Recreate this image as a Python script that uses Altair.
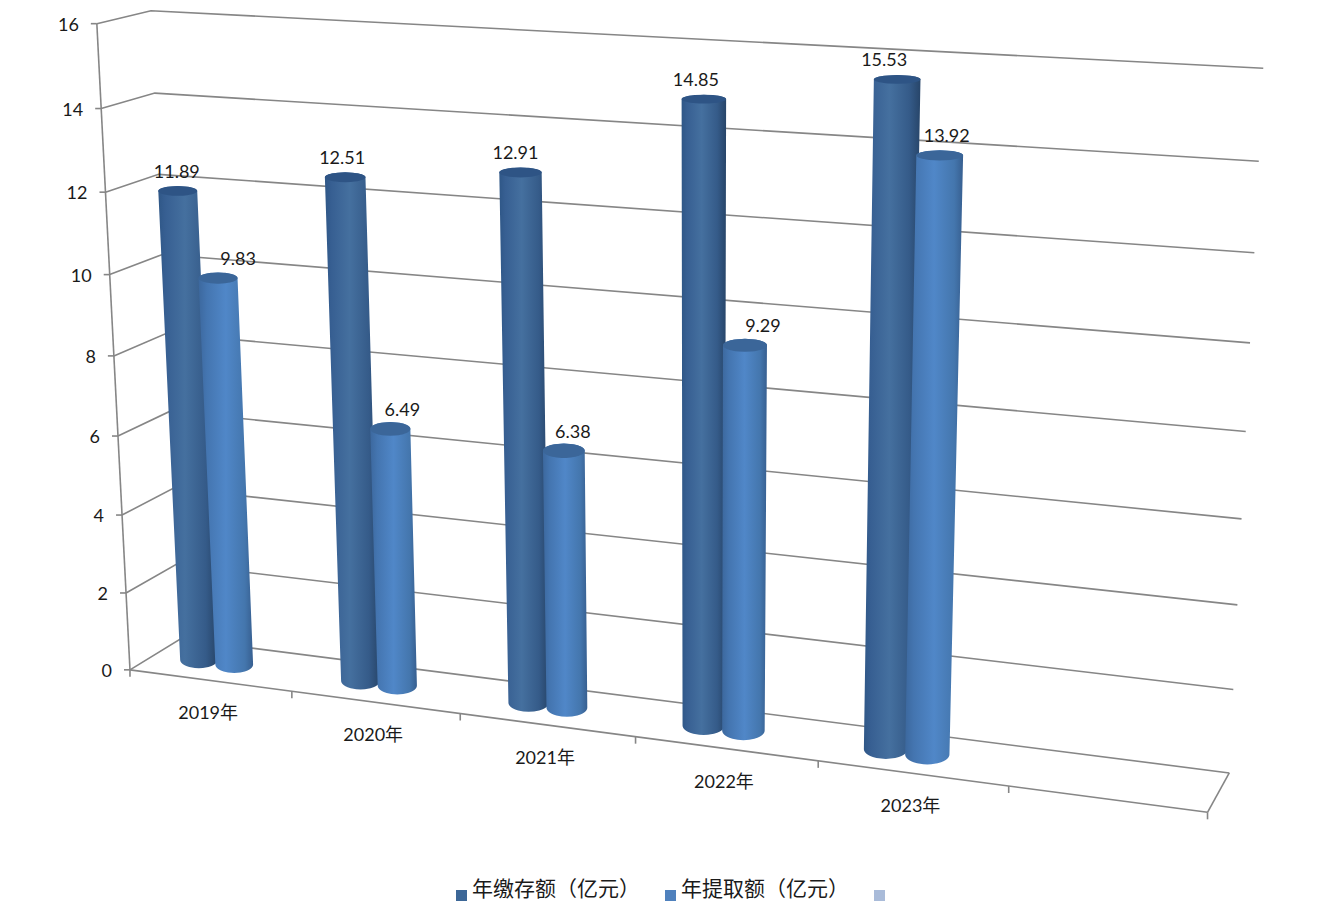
import altair as alt
import numpy as np
import pandas as pd

# ---------- chart values ----------
years = ["2019年", "2020年", "2021年", "2022年", "2023年"]
series_names = ["年缴存额（亿元）", "年提取额（亿元）", "系列3"]
deposits = [11.89, 12.51, 12.91, 14.85, 15.53]
withdrawals = [9.83, 6.49, 6.38, 9.29, 13.92]
value_ticks = [0, 2, 4, 6, 8, 10, 12, 14, 16]
slot_count = 6  # the category axis has one trailing empty slot
series_colors = ["#3c6797", "#4f81bd", "#a9bbd9"]

# ---------- camera calibration: (slot, depth, value) -> picture pixel ----------
calib = [
    (0, 0, 16, 97.3, 24), (0, 0, 14, 101.7, 108), (0, 0, 12, 106.7, 191.7),
    (0, 0, 2, 126, 592.7), (0, 0, 0, 129.3, 670),
    (0, 1, 16, 150, 10.7), (0, 1, 14, 154, 92.7), (0, 1, 12, 158.3, 175), (0, 1, 0, 182, 639),
    (6, 1, 16, 1264, 69), (6, 1, 14, 1258, 161), (6, 1, 12, 1254, 253), (6, 1, 10, 1250, 343),
    (6, 1, 8, 1246, 431), (6, 1, 6, 1242, 519), (6, 1, 4, 1238, 605), (6, 1, 2, 1233, 689),
    (6, 1, 0, 1229, 772.7), (6, 0, 0, 1208, 812),
    (1, 0, 0, 290.7, 691.7), (2, 0, 0, 460, 713.6), (3, 0, 0, 636, 736.7),
    (4, 0, 0, 818, 760.7), (5, 0, 0, 1008, 786.7),
]
A, b = [], []
for u, v, h, cx, cy in calib:
    A.append([u, v, h, 1, 0, 0, 0, 0, -cx * u, -cx * v, -cx * h]); b.append(cx)
    A.append([0, 0, 0, 0, u, v, h, 1, -cy * u, -cy * v, -cy * h]); b.append(cy)
P = np.append(np.linalg.lstsq(np.array(A, float), np.array(b, float), rcond=None)[0], 1).reshape(3, 4)


def project(u, v, h):
    q = P @ np.array([u, v, h, 1.0])
    return float(q[0] / q[2]), float(q[1] / q[2])


# ---------- geometry derived from the values ----------
slot_offsets = [0.275, 0.497]
radius_u, radius_v, depth_mid = 0.118, 0.27, 0.5
label_dx = [[-1, -3, -5, -8, -13], [20, 12, 9, 18, 7]]
label_dy = -18


def circle(u, h, n=72):
    """Level ellipse of a cylinder end: centre and semi-axes come from the camera."""
    cx, cy = project(u, depth_mid, h)
    semi_x = (project(u + radius_u, depth_mid, h)[0] - project(u - radius_u, depth_mid, h)[0]) / 2
    semi_y = (project(u, depth_mid - radius_v, h)[1] - project(u, depth_mid + radius_v, h)[1]) / 2
    t = np.linspace(0, 2 * np.pi, n, endpoint=False)
    return [(float(cx + semi_x * np.cos(a)), float(cy + semi_y * np.sin(a))) for a in t]


def hull(points):
    pts = sorted(set(points))
    def half(seq):
        out = []
        for p in seq:
            while len(out) > 1 and ((out[-1][0] - out[-2][0]) * (p[1] - out[-2][1])
                                    - (out[-1][1] - out[-2][1]) * (p[0] - out[-2][0])) <= 0:
                out.pop()
            out.append(p)
        return out[:-1]
    return half(pts) + half(pts[::-1])


def scan(poly, key, step):
    ys_all = [p[1] for p in poly]
    grid = np.arange(min(ys_all), max(ys_all), step).tolist() + [max(ys_all)]
    out = []
    for y in grid:
        xs_hit = []
        for (x0, y0), (x1, y1) in zip(poly, poly[1:] + poly[:1]):
            if min(y0, y1) <= y <= max(y0, y1):
                xs_hit.append(x0 if y0 == y1 else x0 + (y - y0) / (y1 - y0) * (x1 - x0))
        if xs_hit:
            out.append({"key": key, "y": y, "xl": min(xs_hit), "xr": max(xs_hit)})
    return out


bodies = [[], []]
caps = [[], []]
labels = []
legend_rows = []
for s, vals in enumerate([deposits, withdrawals]):
    for i, val in enumerate(vals):
        u = i + slot_offsets[s]
        key = f"k{s}{i}"
        base, top = circle(u, 0), circle(u, val)
        bodies[s] += scan(hull(base + top), key, 1.0)
        caps[s] += scan(hull(top), key, 0.4)
        cx, cy = project(u, depth_mid, val)
        labels.append({"x": cx + label_dx[s][i], "y": cy + label_dy, "t": f"{val:.2f}"})
        legend_rows.append({"x": cx, "y": cy, "series": series_names[s]})

grid_rows = []
for h in value_ticks:
    for n, (u, v) in enumerate([(0, 0), (0, 1), (slot_count, 1)]):
        x, y = project(u, v, h)
        grid_rows.append({"key": f"g{h}", "o": n, "x": x, "y": y})
frame = [
    ("axis", [(0, 0, 0), (0, 0, 16)]),
    ("front", [(0, 0, 0), (slot_count, 0, 0)]),
    ("side", [(slot_count, 0, 0), (slot_count, 1, 0)]),
]
for name, pts in frame:
    for n, (u, v, h) in enumerate(pts):
        x, y = project(u, v, h)
        grid_rows.append({"key": name, "o": n, "x": x, "y": y})

h_ticks = []
for h in value_ticks:
    x, y = project(0, 0, h)
    h_ticks.append({"x": x - 6, "x2": x, "y": y, "y2": y})
for k in range(slot_count + 1):
    x, y = project(k, 0, 0)
    h_ticks.append({"x": x, "x2": x, "y": y, "y2": y + 7})

value_labels = []
for h in value_ticks:
    x, y = project(0, 0, h)
    value_labels.append({"x": x - 18, "y": y + 2, "t": str(h)})
cat_labels = []
for i, name in enumerate(years):
    x, y = project(i + 0.5, 0, 0)
    cat_labels.append({"x": x - 2, "y": y + 34, "t": name})

# ---------- scales: picture pixels, offset by the page margin ----------
W, H = 1310, 895
xs = alt.Scale(domain=[8, 8 + W], nice=False, zero=False)
ys = alt.Scale(domain=[8 + H, 8], nice=False, zero=False)
X = lambda f="x": alt.X(f"{f}:Q", scale=xs, axis=None)
Y = lambda f="y": alt.Y(f"{f}:Q", scale=ys, axis=None)
FONT = "Lato, Noto Sans CJK SC, sans-serif"
LINE = "#868686"

grad = [
    [(0, "#2f5787"), (0.12, "#375f92"), (0.45, "#45709f"), (0.8, "#355b89"), (1, "#274569")],
    [(0, "#3c689e"), (0.15, "#4475b0"), (0.5, "#5087c8"), (0.85, "#4476ad"), (1, "#375f90")],
]
cap_color = ["#2e5485", "#3b6699"]


def gradient(stops):
    return alt.Gradient(gradient="linear", x1=0, x2=1, y1=0, y2=0,
                        stops=[alt.GradientStop(offset=o, color=c) for o, c in stops])


def area(rows, fill):
    return alt.Chart(pd.DataFrame(rows)).mark_area(fill=fill, stroke=None, orient="horizontal").encode(
        x=X("xl"), x2="xr:Q", y=Y("y"), detail="key:N")


grid = alt.Chart(pd.DataFrame(grid_rows)).mark_line(color=LINE, strokeWidth=1.6).encode(
    x=X(), y=Y(), detail="key:N", order="o:Q")
ticks = alt.Chart(pd.DataFrame(h_ticks)).mark_rule(color=LINE, strokeWidth=1.6).encode(
    x=X(), x2="x2:Q", y=Y(), y2="y2:Q")
layers = [grid, ticks]
for s in range(2):
    layers += [area(bodies[s], gradient(grad[s])), area(caps[s], cap_color[s])]


def text(rows, **kw):
    base = dict(font=FONT, fontSize=18, color="#1a1a1a", baseline="middle")
    base.update(kw)
    return alt.Chart(pd.DataFrame(rows)).mark_text(**base).encode(x=X(), y=Y(), text="t:N")


layers += [text(labels, align="center"), text(value_labels, align="right"), text(cat_labels, align="center")]

legend = alt.Chart(pd.DataFrame(legend_rows)).mark_point(filled=True, size=0, opacity=0).encode(
    x=X(), y=Y(),
    color=alt.Color("series:N", scale=alt.Scale(domain=series_names, range=series_colors),
                    legend=alt.Legend(
                        title=None, orient="none", legendX=443, legendY=877, direction="horizontal",
                        columns=3, symbolType="square", symbolSize=121, symbolOpacity=1,
                        symbolStrokeWidth=0, labelFont=FONT, labelFontSize=21, labelColor="#1a1a1a",
                        labelLimit=300, labelOffset=0, labelBaseline="alphabetic", columnPadding=20,
                        labelExpr="datum.label == '系列3' ? '' : datum.label")))
layers.append(legend)

chart = alt.layer(*layers).properties(
    width=W, height=H, padding=0, autosize=alt.AutoSizeParams(type="none"),
).configure_view(stroke=None)

chart.save("out.html", embed_options={"renderer": "svg", "actions": False})
